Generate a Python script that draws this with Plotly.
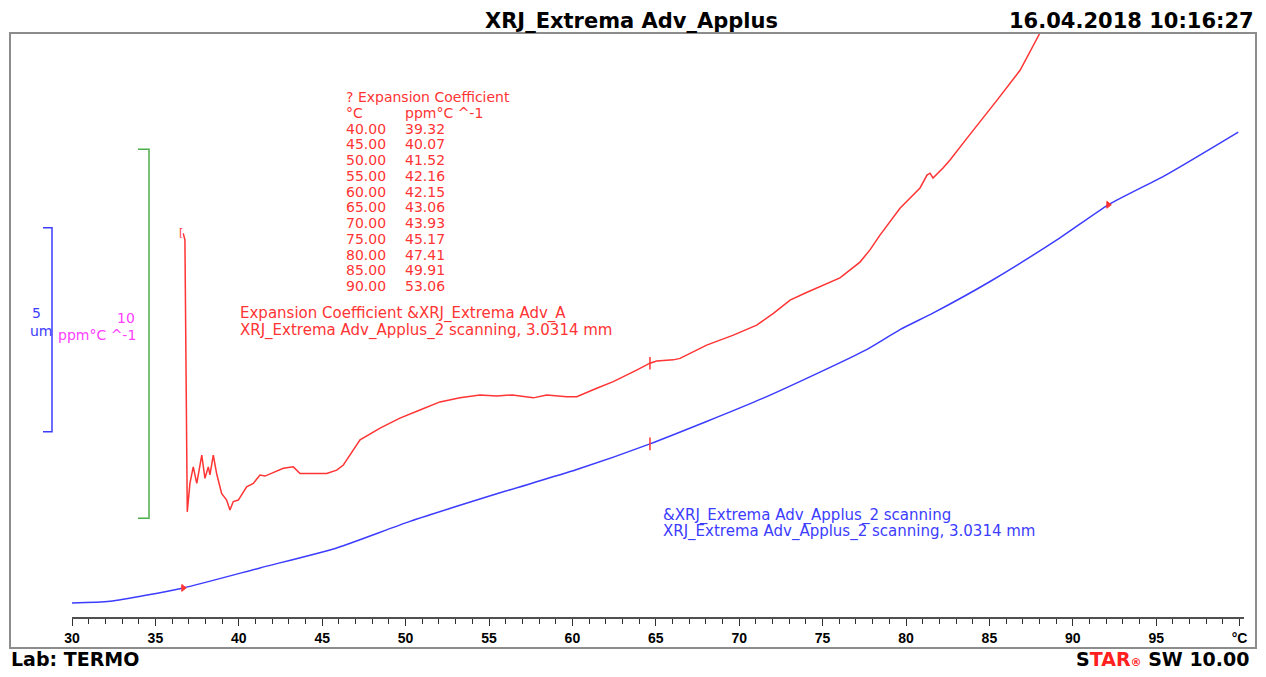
import numpy as np
import plotly.graph_objects as go

# window 1266x677; page body has an 8px margin, so the figure is 16px smaller
WIN_W, WIN_H = 1266, 677
OFF = 8
W, H = WIN_W - 2 * OFF, WIN_H - 2 * OFF

# ---------------- data ----------------
# Red curve: expansion coefficient (ppm/°C) vs temperature (°C)
temp_red = [36.67, 36.77, 36.91, 37.07, 37.27, 37.48, 37.78, 37.97, 38.17, 38.27, 38.47,
            38.67, 38.97, 39.27, 39.47, 39.67, 39.97, 40.47, 40.87, 41.27, 41.57, 42.27,
            42.67, 43.27, 43.67, 44.47, 45.27, 45.87, 46.27, 46.47, 46.87, 47.27, 48.47,
            49.66, 50.86, 52.06, 53.26, 54.46, 55.46, 56.40, 57.66, 58.46, 59.66, 60.26,
            61.46, 62.45, 63.85, 64.65, 65.05, 66.05, 66.45, 68.05, 69.65, 71.05, 72.05,
            73.05, 74.00, 75.00, 76.04, 77.24, 77.84, 78.44, 79.64, 80.84, 81.26, 81.44,
            81.62, 82.22, 82.64, 83.66, 84.62, 85.46, 86.84, 88.03, 89.00, 90.00]
cte_red = [46.56, 46.38, 39.01, 39.78, 40.23, 39.78, 40.55, 39.92, 40.23, 40.01, 40.55,
           40.05, 39.51, 39.33, 39.06, 39.29, 39.33, 39.69, 39.78, 40.01, 39.98, 40.10,
           40.19, 40.23, 40.05, 40.05, 40.05, 40.14, 40.28, 40.42, 40.70, 40.96, 41.28,
           41.55, 41.77, 41.99, 42.10, 42.18, 42.15, 42.18, 42.10, 42.18, 42.13, 42.13,
           42.36, 42.54, 42.85, 43.04, 43.10, 43.13, 43.17, 43.53, 43.80, 44.07, 44.39,
           44.75, 44.95, 45.15, 45.35, 45.78, 46.11, 46.51, 47.24, 47.79, 48.14, 48.19,
           48.06, 48.33, 48.55, 49.14, 49.68, 50.17, 50.98, 51.99, 52.60, 53.06]

# Blue curve: length change (um) vs temperature (°C)
temp_blue = [30.0, 32.28, 36.67, 41.27, 45.87, 50.26, 55.66, 60.26, 64.65, 71.44,
             77.64, 79.64, 81.64, 85.04, 89.23, 92.13, 95.63, 99.92]
dl_blue = [0.00, 0.04, 0.37, 0.86, 1.35, 2.00, 2.70, 3.27, 3.90, 5.02,
           6.21, 6.70, 7.11, 7.88, 8.95, 9.76, 10.50, 11.54]

# Evaluation table
table_T = [40.00, 45.00, 50.00, 55.00, 60.00, 65.00, 70.00, 75.00, 80.00, 85.00, 90.00]
table_cte = [39.32, 40.07, 41.52, 42.16, 42.15, 43.06, 43.93, 45.17, 47.41, 49.91, 53.06]

# Marker temperatures
marker_start_blue = 30.0
marker_start_red = 36.67
marker_mid = 64.65
marker_flag_blue = [36.67, 92.13]

# Axis ticks
x_ticks = [30, 35, 40, 45, 50, 55, 60, 65, 70, 75, 80, 85, 90, 95, 100]
x_ticklabels = ["30", "35", "40", "45", "50", "55", "60", "65", "70", "75",
                "80", "85", "90", "95", "°C"]

title_text = "XRJ_Extrema Adv_Applus"
date_text = "16.04.2018 10:16:27"
lab_text = "Lab: TERMO"
red_label = ["Expansion Coefficient &XRJ_Extrema Adv_A",
             "XRJ_Extrema Adv_Applus_2 scanning, 3.0314 mm"]
blue_label = ["&XRJ_Extrema Adv_Applus_2 scanning",
              "XRJ_Extrema Adv_Applus_2 scanning, 3.0314 mm"]

# ---------------- styling / layout ----------------
RED = "#ff3434"
BLUE = "#3c3cff"
GREEN = "#4caf4c"
MAGENTA = "#ff40ff"
FONT = "DejaVu Sans"


def px(x):
    return (x - OFF) / W


def py(y):
    return 1 - (y - OFF) / H


x_dom = [px(72), px(1244)]
x_rng = [30, 30 + (1244 - 72) / 16.68]
y_dom = [py(617), py(33)]
red_rng = [36.16, 51.99]
blue_rng = [-0.343, 13.97]

fig = go.Figure()

fig.add_trace(go.Scatter(x=temp_red, y=cte_red, mode="lines",
                         line=dict(color=RED, width=1.5), yaxis="y",
                         showlegend=False, hoverinfo="skip"))
fig.add_trace(go.Scatter(x=temp_blue, y=dl_blue, mode="lines",
                         line=dict(color=BLUE, width=1.5, shape="spline", smoothing=0.6),
                         yaxis="y2", showlegend=False, hoverinfo="skip"))

# evaluation markers
fig.add_trace(go.Scatter(x=[marker_start_blue], y=[np.interp(marker_start_blue, temp_blue, dl_blue)],
                         mode="text", text=["["], textposition="middle left",
                         textfont=dict(color=RED, size=11, family=FONT),
                         yaxis="y2", showlegend=False, hoverinfo="skip"))
fig.add_trace(go.Scatter(x=[marker_start_red], y=[cte_red[0]],
                         mode="text", text=["["], textposition="middle left",
                         textfont=dict(color=RED, size=11, family=FONT),
                         yaxis="y", showlegend=False, hoverinfo="skip"))
fig.add_trace(go.Scatter(x=[marker_mid], y=[np.interp(marker_mid, temp_red, cte_red)],
                         mode="markers", marker=dict(symbol="line-ns", size=9,
                                                     line=dict(color=RED, width=1.5)),
                         yaxis="y", showlegend=False, hoverinfo="skip"))
fig.add_trace(go.Scatter(x=[marker_mid], y=[np.interp(marker_mid, temp_blue, dl_blue)],
                         mode="markers", marker=dict(symbol="line-ns", size=9,
                                                     line=dict(color=RED, width=1.5)),
                         yaxis="y2", showlegend=False, hoverinfo="skip"))
fig.add_trace(go.Scatter(x=marker_flag_blue, y=list(np.interp(marker_flag_blue, temp_blue, dl_blue)),
                         mode="markers", marker=dict(symbol="triangle-right", size=6, color=RED,
                                                     line=dict(color=RED, width=1)),
                         yaxis="y2", showlegend=False, hoverinfo="skip"))

shapes = [
    # outer frame
    dict(type="rect", xref="paper", yref="paper", x0=px(10), x1=px(1256), y0=py(648), y1=py(33),
         line=dict(color="#8c8c8c", width=2)),
    # blue scale bar: 5 um
    dict(type="path", xref="paper", yref="y2",
         path=f"M {px(43)},{4.2 + 5} L {px(52)},{4.2 + 5} L {px(52)},{4.2} L {px(43)},{4.2}",
         line=dict(color=BLUE, width=1.5)),
    # green scale bar: 10 ppm/°C
    dict(type="path", xref="paper", yref="y",
         path=f"M {px(138)},{38.84 + 10} L {px(149)},{38.84 + 10} L {px(149)},{38.84} L {px(138)},{38.84}",
         line=dict(color=GREEN, width=1.5)),
]

ann = []


def add_text(x, y, text, color="black", size=15, bold=False, xanchor="left", family=FONT):
    ann.append(dict(x=px(x), y=py(y), xref="paper", yref="paper", text=text, showarrow=False,
                    xanchor=xanchor, yanchor="middle",
                    font=dict(color=color, size=size, family=family,
                              weight="bold" if bold else "normal")))


add_text(631, 21, title_text, size=21, bold=True, xanchor="center")
add_text(1256, 21, date_text, size=21, bold=True, xanchor="right")
add_text(9, 659, lab_text, size=19, bold=True)
add_text(1252, 659, "S<span style='color:#ff2020'>TAR</span><span style='color:#ff2020;font-size:11px'>®</span> SW 10.00",
         size=19, bold=True, xanchor="right")

# table
add_text(344, 97, "? Expansion Coefficient", color=RED, size=14)
add_text(344, 113, "°C", color=RED, size=14)
add_text(403, 113, "ppm°C ^-1", color=RED, size=14)
for i, (t, c) in enumerate(zip(table_T, table_cte)):
    add_text(344, 128.5 + 15.75 * i, f"{t:.2f}", color=RED, size=14)
    add_text(403, 128.5 + 15.75 * i, f"{c:.2f}", color=RED, size=14)

add_text(238, 313, red_label[0], color=RED)
add_text(238, 330, red_label[1], color=RED)
add_text(661, 515, blue_label[0], color=BLUE)
add_text(661, 531, blue_label[1], color=BLUE)

# scale labels
add_text(36, 313, "5", color=BLUE, size=14, xanchor="center")
add_text(28, 331, "um", color=BLUE, size=14)
add_text(126, 318, "10", color=MAGENTA, size=14, xanchor="center")
add_text(56, 335, "ppm°C ^-1", color=MAGENTA, size=14)

fig.update_layout(
    template="none",
    width=W, height=H, autosize=False,
    margin=dict(l=0, r=0, t=0, b=0, pad=0),
    paper_bgcolor="white", plot_bgcolor="white",
    font=dict(family=FONT),
    shapes=shapes, annotations=ann,
    xaxis=dict(domain=x_dom, range=x_rng, showgrid=False, zeroline=False,
               showline=True, linecolor="#505050", linewidth=2, automargin=False,
               ticks="outside", ticklen=7, tickwidth=1.2, tickcolor="#303030",
               tickvals=x_ticks, ticktext=x_ticklabels,
               tickfont=dict(family="Liberation Sans Narrow, Liberation Sans", size=14,
                             color="black", weight="bold"),
               minor=dict(dtick=1, ticks="outside", ticklen=5, tickwidth=1, tickcolor="#303030"),
               fixedrange=True),
    yaxis=dict(domain=y_dom, range=red_rng, visible=False, fixedrange=True, automargin=False),
    yaxis2=dict(domain=y_dom, range=blue_rng, visible=False, overlaying="y", fixedrange=True,
                automargin=False),
)

fig.write_html("out.html")
